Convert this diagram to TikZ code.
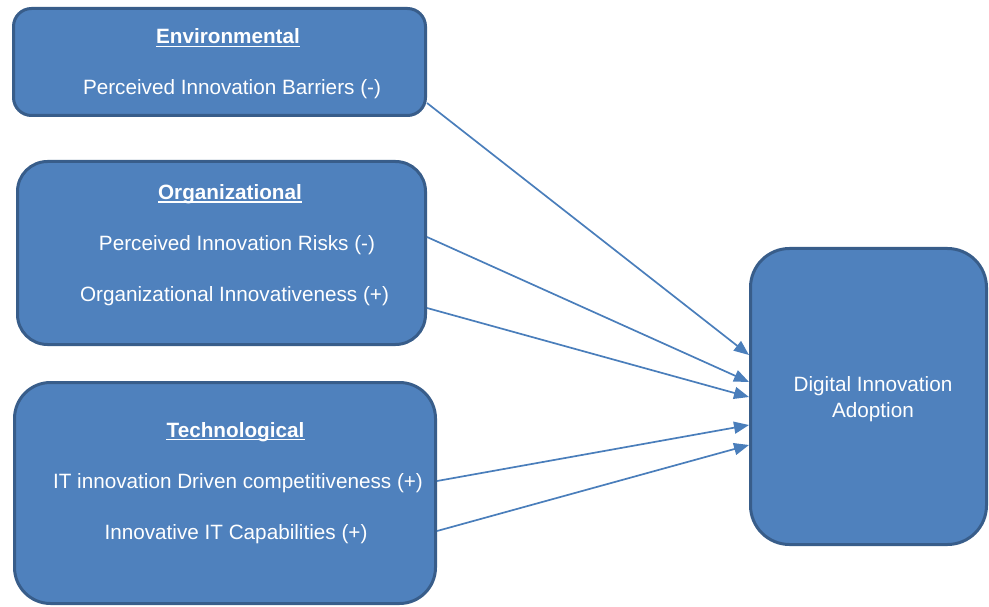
\documentclass[tikz,border=0pt]{standalone}
\usepackage{fontspec}
\setmainfont{Liberation Sans}
\usetikzlibrary{arrows.meta}
\definecolor{boxfill}{HTML}{4F81BD}
\definecolor{boxedge}{HTML}{385D8A}
\definecolor{linkblue}{HTML}{4A7EBB}
\begin{document}
\begin{tikzpicture}[x=1pt,y=-1pt,
  box/.style={draw=boxedge, fill=boxfill, line width=3pt, inner sep=0pt},
  itemtext/.style={text=white, inner sep=0pt, anchor=base, font=\fontsize{20.7}{26}\selectfont},
  heading/.style={itemtext, font=\fontsize{20.7}{26}\selectfont\bfseries},
  uline/.style={white, line width=1.5pt},
  link/.style={draw=linkblue, line width=1.7pt, -{Triangle[length=15pt,width=12pt]}}]
\useasboundingbox (0,0) rectangle (989,607);

% factor groups
\node[box, minimum width=412pt, minimum height=107pt, rounded corners=18pt] (env) at (219.5,62) {};
\node[box, minimum width=408pt, minimum height=183pt, rounded corners=30pt] (org) at (221.5,253) {};
\node[box, minimum width=421pt, minimum height=221pt, rounded corners=36pt] (tech) at (225,493) {};
\node[box, minimum width=236pt, minimum height=296pt, rounded corners=39pt] (dia) at (868.5,396.5) {};

% headings
\node[heading] (envh) at (228,44) {Environmental};
\draw[uline] ([yshift=-2.5pt]envh.base west) -- ([yshift=-2.5pt]envh.base east);
\node[heading] (orgh) at (230,199.5) {Organizational};
\draw[uline] ([yshift=-2.5pt]orgh.base west) -- ([yshift=-2.5pt]orgh.base east);
\node[heading] (techh) at (235.5,437) {Technological};
\draw[uline] ([yshift=-2.5pt]techh.base west) -- ([yshift=-2.5pt]techh.base east);

% factors
\node[itemtext] (barriers) at (232,95) {Perceived Innovation Barriers (-)};
\node[itemtext] (risks) at (237,250.5) {Perceived Innovation Risks (-)};
\node[itemtext] (innov) at (234.5,301) {Organizational Innovativeness (+)};
\node[itemtext] (compet) at (238,488) {IT innovation Driven competitiveness (+)};
\node[itemtext] (capab) at (236,539) {Innovative IT Capabilities (+)};

% outcome
\node[itemtext, align=center, anchor=center] (out) at (873,399) {Digital Innovation\\Adoption};

% relationships
\draw[link] ([yshift=-41pt]env.east) -- ([yshift=41.5pt]dia.west);
\draw[link] ([yshift=16pt]org.east) -- ([yshift=14.5pt]dia.west);
\draw[link] ([yshift=-55pt]org.east) -- ([yshift=-0.5pt]dia.west);
\draw[link] ([yshift=12pt]tech.east) -- ([yshift=-28.5pt]dia.west);
\draw[link] ([yshift=-38pt]tech.east) -- ([yshift=-48.5pt]dia.west);
\end{tikzpicture}
\end{document}
